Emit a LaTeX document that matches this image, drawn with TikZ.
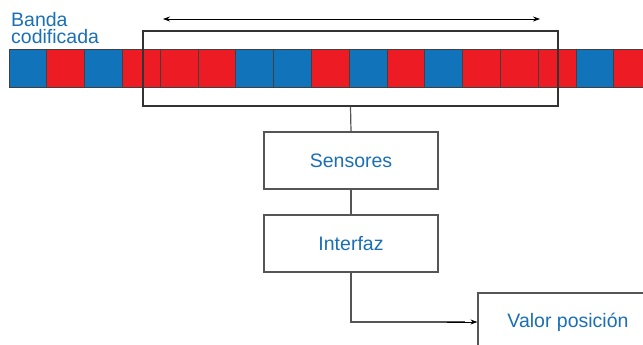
\documentclass[tikz,border=0pt]{standalone}
\usepackage{fontspec}
\setmainfont{Liberation Sans}
\usetikzlibrary{arrows.meta}
\definecolor{bblue}{HTML}{1173BA}
\definecolor{bred}{HTML}{ED1C24}
\definecolor{tblue}{HTML}{1A6FB5}
\definecolor{lgray}{HTML}{555555}
\begin{document}
\begin{tikzpicture}[x=1pt,y=-1pt,
  cell/.style={draw=black!75,line width=0.8pt},
  lbl/.style={text=tblue,inner sep=0pt,font=\fontsize{19.5}{20}\selectfont},
  box/.style={draw=lgray,line width=1.2pt,fill=white,minimum width=174pt,minimum height=57pt,inner sep=0pt,
    text=tblue,font=\fontsize{19.5}{20}\selectfont},
  conn/.style={draw=lgray,line width=1.2pt},
  tip/.style={-{Stealth[length=7pt,width=5pt]},black,line width=0.7pt}]
\useasboundingbox (0,0) rectangle (643,345);
\clip (0,0) rectangle (643,345);
% coded band
\foreach \c [count=\i from 0] in {bblue,bred,bblue,bred,bred,bred,bblue,bblue,bred,bblue,bred,bblue,bred,bred,bred,bblue,bred}{
  \path[cell,fill=\c] ({9+37.8*\i},49) rectangle ({9+37.8*(\i+1)},87);
}
\node[lbl,anchor=north west,align=left,font=\fontsize{19.5}{17}\selectfont] (label) at (11,12) {Banda\\codificada};
% reading window
\node[draw=black!80,line width=1.4pt,minimum width=415pt,minimum height=75pt,inner sep=0pt] (win) at (350.5,68.5) {};
\coordinate (al) at (163,19);
\coordinate (ar) at (540,19);
\draw[tip,{Stealth[length=7pt,width=5pt]}-{Stealth[length=7pt,width=5pt]}] (al) -- (ar);
% blocks
\node[box] (sens) at (351,160.5) {Sensores};
\node[box] (inter) at (351,243.5) {Interfaz};
\node[box,minimum width=182pt,minimum height=58pt] (valor) at (569,322) {};
\node[lbl] (vtext) at (568,322) {Valor posición};
\draw[conn] (win.south) -- (sens.north);
\draw[conn] (sens.south) -- (inter.north);
\draw[conn] (inter.south) -- (351,322) -- ([xshift=-12pt]valor.west);
\draw[tip] ([xshift=-30pt]valor.west) -- (valor.west);
\end{tikzpicture}
\end{document}
